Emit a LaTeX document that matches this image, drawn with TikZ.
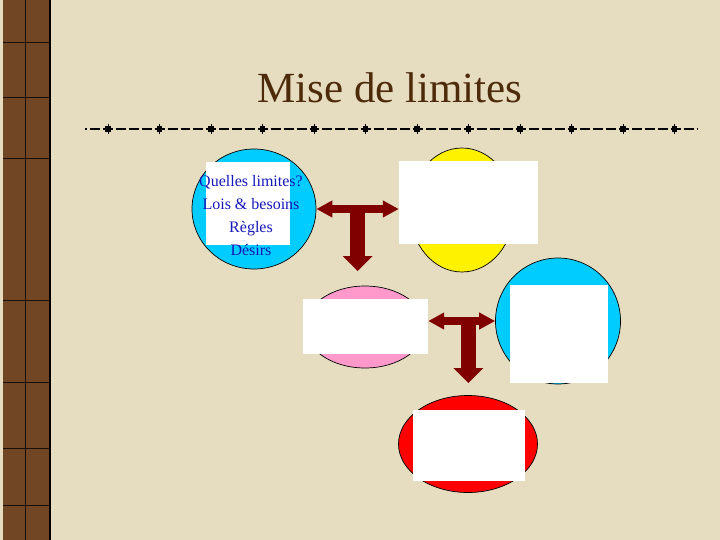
\documentclass[tikz,border=0pt]{standalone}
\usepackage{fontspec}
\setmainfont{Liberation Serif}
\usetikzlibrary{calc,shapes.geometric,arrows.meta}

\definecolor{paper}{RGB}{230,221,193}
\definecolor{stripbrown}{RGB}{112,70,36}
\definecolor{titlebrown}{RGB}{77,42,10}
\definecolor{inkblue}{RGB}{22,22,185}
\definecolor{skyblue}{RGB}{0,204,255}
\definecolor{rosepink}{RGB}{255,153,204}
\definecolor{arrowred}{RGB}{128,0,0}

\begin{document}
\begin{tikzpicture}[x=1pt,y=-1pt,
     oval/.style={ellipse,draw=black,line width=0.7pt,inner sep=0pt},
     whitebox/.style={fill=white,inner sep=0pt},
     twoway/.style={draw=arrowred,line width=8pt,
       {Triangle[width=16pt,length=16pt]}-{Triangle[width=16pt,length=16pt]}},
     downway/.style={draw=arrowred,line width=15pt,
       -{Triangle[width=29pt,length=15pt]}},
     sepline/.style={line width=1.4pt,dash pattern=on 9.9pt off 3pt,dash phase=7.7pt}]
     \useasboundingbox (0,0) rectangle (720,540);
     \fill[paper] (0,0) rectangle (720,540);

     \fill[stripbrown] (3,0) rectangle (50,540);
     \draw[black!80!stripbrown,line width=1pt] (25,0) -- (25,540);
     \foreach \y in {43,98,159,300,382,448,505}
       \draw[black!80!stripbrown,line width=1pt] (3,\y) -- (50,\y);
     \draw[black,line width=2.5pt] (50,0) -- (50,540);

     \node[titlebrown,anchor=base,font=\fontsize{43}{50}\selectfont] (title) at (390,103) {Mise de limites};
     \draw[sepline] (85,129) -- (697,129);
     \foreach \i in {0,...,11} {
       \fill ({108+51.5*\i},129) +(-2.8,-2.8) rectangle +(2.8,2.8);
       \draw[line width=0.6pt] ({108+51.5*\i},124) -- ({108+51.5*\i},134);
     }

     \node[oval,fill=skyblue,minimum width=124pt,minimum height=120pt] (cyanA) at (254,209) {};
     \node[oval,fill=yellow,minimum width=104pt,minimum height=124pt] (sun) at (462,210) {};
     \node[oval,fill=rosepink,minimum width=120pt,minimum height=82pt] (rose) at (365,327) {};
     \node[oval,fill=skyblue,minimum width=125pt,minimum height=126pt] (cyanB) at (558,321) {};
     \node[oval,fill=red,minimum width=139pt,minimum height=97pt] (fire) at (468,444) {};

     \node[whitebox,minimum width=84pt,minimum height=83pt] (boxA) at (248,203.5) {};
     \node[whitebox,minimum width=139pt,minimum height=83pt] (boxS) at (468.5,202.5) {};
     \node[whitebox,minimum width=125pt,minimum height=55pt] (boxR) at (365.5,326.5) {};
     \node[whitebox,minimum width=98pt,minimum height=98pt] (boxB) at (559,334) {};
     \node[whitebox,minimum width=112pt,minimum height=71pt] (boxF) at (469,445.5) {};

     \node[inkblue,align=center,font=\fontsize{16}{23}\selectfont] (limits) at (251,216) {%
       Quelles limites?\\Lois \& besoins\\Règles\\Désirs};

     \coordinate (forkA) at ($(cyanA.east)!0.5!(cyanA.east -| boxS.west)$);
     \coordinate (tipA) at ($(forkA)+(0,62)$);
     \coordinate (forkB) at ($(boxR.east |- cyanB.west)!0.6!(cyanB.west)$);
     \coordinate (tipB) at ($(forkB)+(0,62)$);

     \draw[downway] (forkA) -- (tipA);
     \draw[twoway] (cyanA.east) -- (cyanA.east -| boxS.west);
     \draw[downway] (forkB) -- (tipB);
     \draw[twoway] (boxR.east |- cyanB.west) -- (cyanB.west);
\end{tikzpicture}
\end{document}
